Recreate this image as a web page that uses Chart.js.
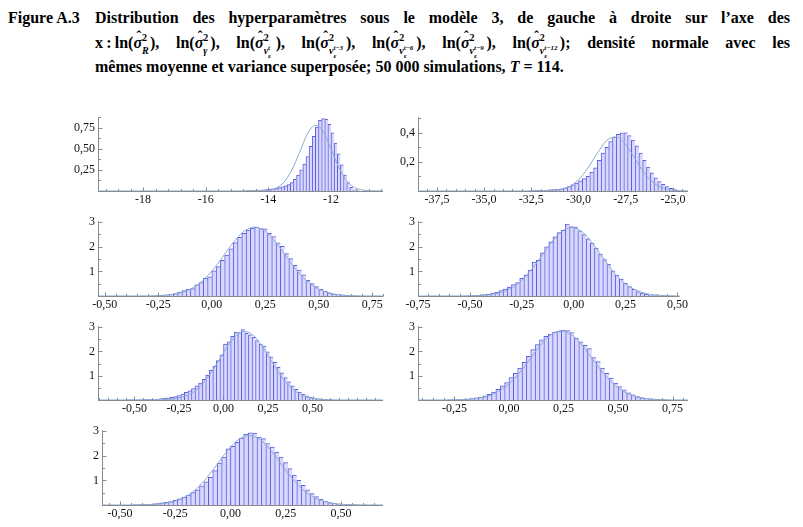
<!DOCTYPE html>
<html lang="fr">
<head>
<meta charset="utf-8">
<title>Figure A.3</title>
<script src="https://cdn.jsdelivr.net/npm/chart.js@4.4.1/dist/chart.umd.min.js"></script>
<style>
  html, body { margin: 0; padding: 0; background: #fff; }
  body { width: 803px; height: 527px; position: relative; overflow: hidden;
         font-family: "Liberation Serif", "Times New Roman", serif; color: #000; }
  .tl { position: absolute; font-weight: bold; font-size: 16px; line-height: 16px; white-space: nowrap; }
  .just { text-align: justify; text-align-last: justify; }
  .sg { position: relative; display: inline-block; }
  .sg .hat { position: absolute; left: 3px; top: -6px; font-size: 14px; font-style: normal; }
  .ss { display: inline-block; position: relative; height: 1px; vertical-align: baseline; }
  .ss .sp { position: absolute; left: 0; top: -14px; font-size: 10px; line-height: 10px; font-style: normal; }
  .ss .sb { position: absolute; left: 0; top: -1px; font-size: 10px; line-height: 10px; font-style: italic; }
  .ss2 { display: inline-block; position: relative; height: 1px; width: 14px; }
  .ss2 .sp2 { position: absolute; left: 0; top: -8px; font-size: 7px; line-height: 7px; font-style: italic; }
  .ss2 .sb2 { position: absolute; left: 0; top: 0px; font-size: 7px; line-height: 7px; font-style: italic; }
  canvas { position: absolute; }
</style>
</head>
<body>

<div class="tl" style="left:8px; top:10px;">Figure A.3</div>
<div class="tl just" style="left:95px; top:10px; width:695px;">Distribution des hyperparamètres sous le modèle 3, de gauche à droite sur l’axe des</div>
<div class="tl just" style="left:95px; top:35px; width:695px;" id="line2"></div>
<div class="tl" style="left:95px; top:59px;">mêmes moyenne et variance superposée; 50 000 simulations, <i>T</i> = 114.</div>

<script>
// ---- data ----
// histogram densities (first bin centre + bin width), normal density curve points, axis ticks

// ln(sigma_R^2)
const histAStart = -14.65, histAWidth = 0.1;
const histA = [0.005, 0.006, 0.008, 0.01, 0.012, 0.015, 0.018, 0.022, 0.027, 0.033, 0.04, 0.05,
  0.06, 0.075, 0.1, 0.14, 0.19, 0.25, 0.32, 0.41, 0.53, 0.65, 0.76, 0.84, 0.86, 0.85, 0.79,
  0.69, 0.57, 0.44, 0.31, 0.19, 0.1, 0.045, 0.015, 0.005];
const curveAx = [-19.44, -14.5, -14.0, -13.75, -13.5, -13.25, -13.0, -12.75, -12.5, -12.25, -12.0, -11.75, -11.5, -11.25, -11.0, -10.75, -10.34];
const curveAy = [0, 0.0003, 0.009, 0.035, 0.106, 0.25, 0.46, 0.68, 0.78, 0.71, 0.50, 0.28, 0.124, 0.043, 0.012, 0.002, 0];
const xTicksA = [-18, -16, -14, -12];
const xLabelsA = ['-18', '-16', '-14', '-12'];
const yTicksA = [0.25, 0.5, 0.75];
const yLabelsA = ['0,25', '0,50', '0,75'];

// ln(sigma_gamma^2)
const histBStart = -32.5, histBWidth = 0.2;
const histB = [0.002, 0.003, 0.004, 0.005, 0.006, 0.008, 0.01, 0.012, 0.015, 0.022, 0.03, 0.042,
  0.055, 0.07, 0.085, 0.10, 0.13, 0.16, 0.21, 0.26, 0.30, 0.34, 0.37, 0.39, 0.40, 0.40, 0.38,
  0.35, 0.31, 0.26, 0.21, 0.165, 0.125, 0.09, 0.065, 0.045, 0.03, 0.018, 0.01, 0.005];
const curveBx = [-38.5, -32.5, -32.0, -31.5, -31.0, -30.5, -30.0, -29.5, -29.0, -28.5, -28.0, -27.5, -27.0, -26.5, -26.0, -25.5, -25.0, -24.5, -24.0];
const curveBy = [0, 0.0001, 0.0005, 0.0024, 0.0095, 0.030, 0.077, 0.158, 0.26, 0.348, 0.371, 0.319, 0.22, 0.122, 0.054, 0.019, 0.0056, 0.0013, 0];
const xTicksB = [-37.5, -35, -32.5, -30, -27.5, -25];
const xLabelsB = ['-37,5', '-35,0', '-32,5', '-30,0', '-27,5', '-25,0'];
const yTicksB = [0.2, 0.4];
const yLabelsB = ['0,2', '0,4'];

// ln(sigma_v^2), t
const histCStart = -0.25, histCWidth = 0.02;
const histC = [0.02, 0.03, 0.05, 0.06, 0.10, 0.16, 0.22, 0.28, 0.30, 0.45, 0.55, 0.72, 0.78,
  1.02, 1.20, 1.45, 1.66, 1.92, 2.17, 2.38, 2.55, 2.68, 2.76, 2.80, 2.74, 2.73, 2.55, 2.42,
  2.16, 2.02, 1.72, 1.52, 1.25, 1.05, 0.86, 0.64, 0.50, 0.38, 0.27, 0.19, 0.13, 0.08, 0.05, 0.03, 0.02];
const curveCx = [-0.53, -0.35, -0.30, -0.25, -0.20, -0.15, -0.10, -0.05, 0.00, 0.05, 0.10, 0.15, 0.20, 0.25, 0.30, 0.35, 0.40, 0.45, 0.50, 0.55, 0.60, 0.65, 0.70, 0.75, 0.80];
const curveCy = [0, 0.001, 0.005, 0.016, 0.047, 0.12, 0.28, 0.57, 1.01, 1.58, 2.17, 2.63, 2.80, 2.63, 2.17, 1.58, 1.01, 0.57, 0.28, 0.12, 0.047, 0.016, 0.005, 0.001, 0];
const xTicksC = [-0.5, -0.25, 0, 0.25, 0.5, 0.75];
const xLabelsC = ['-0,50', '-0,25', '0,00', '0,25', '0,50', '0,75'];

// t-3
const histDStart = -0.51, histDWidth = 0.02;
const histD = [0.01, 0.02, 0.03, 0.04, 0.06, 0.08, 0.12, 0.16, 0.22, 0.28, 0.36, 0.46, 0.55,
  0.72, 0.86, 1.05, 1.38, 1.45, 1.75, 2.0, 2.2, 2.4, 2.58, 2.68, 2.92, 2.82, 2.80, 2.65, 2.50,
  2.32, 2.15, 1.95, 1.70, 1.48, 1.30, 1.02, 0.85, 0.68, 0.52, 0.38, 0.27, 0.18, 0.12, 0.07, 0.04, 0.02, 0.01];
const curveDx = [-0.75, -0.56, -0.51, -0.46, -0.41, -0.36, -0.31, -0.26, -0.21, -0.16, -0.11, -0.06, -0.01, 0.04, 0.09, 0.14, 0.19, 0.24, 0.29, 0.34, 0.39, 0.44, 0.49, 0.54];
const curveDy = [0, 0.001, 0.005, 0.016, 0.047, 0.12, 0.28, 0.56, 1.0, 1.57, 2.15, 2.61, 2.78, 2.61, 2.15, 1.57, 1.0, 0.56, 0.28, 0.12, 0.047, 0.016, 0.005, 0.001];
const xTicksD = [-0.75, -0.5, -0.25, 0, 0.25, 0.5];
const xLabelsD = ['-0,75', '-0,50', '-0,25', '0,00', '0,25', '0,50'];

// t-6
const histEStart = -0.53, histEWidth = 0.02;
const histE = [0.005, 0.008, 0.01, 0.012, 0.015, 0.02, 0.025, 0.03, 0.04, 0.05, 0.07, 0.09, 0.11,
  0.14, 0.18, 0.24, 0.32, 0.38, 0.47, 0.58, 0.70, 0.85, 1.02, 1.22, 1.40, 1.62, 1.85, 2.30, 2.40,
  2.62, 2.80, 2.78, 2.90, 2.75, 2.68, 2.58, 2.45, 2.30, 2.22, 1.98, 1.78, 1.55, 1.35, 1.12, 0.92,
  0.75, 0.58, 0.44, 0.33, 0.24, 0.17, 0.12, 0.08, 0.05, 0.03, 0.02, 0.01, 0.005];
const curveEx = [-0.71, -0.43, -0.38, -0.33, -0.28, -0.23, -0.18, -0.13, -0.08, -0.03, 0.02, 0.07, 0.12, 0.17, 0.22, 0.27, 0.32, 0.37, 0.42, 0.47, 0.52, 0.57, 0.62, 0.67, 0.90];
const curveEy = [0, 0.001, 0.005, 0.016, 0.048, 0.12, 0.28, 0.57, 1.02, 1.59, 2.19, 2.65, 2.82, 2.65, 2.19, 1.59, 1.02, 0.57, 0.28, 0.12, 0.048, 0.016, 0.005, 0.001, 0];
const xTicksE = [-0.5, -0.25, 0, 0.25, 0.5];
const xLabelsE = ['-0,50', '-0,25', '0,00', '0,25', '0,50'];

// t-9
const histFStart = -0.27, histFWidth = 0.02;
const histF = [0.01, 0.015, 0.02, 0.03, 0.04, 0.06, 0.09, 0.12, 0.17, 0.23, 0.33, 0.44, 0.58,
  0.72, 0.92, 1.10, 1.32, 1.55, 1.80, 2.08, 2.28, 2.48, 2.62, 2.72, 2.80, 2.84, 2.88, 2.86, 2.78,
  2.55, 2.40, 2.25, 2.12, 1.75, 1.58, 1.32, 1.10, 0.90, 0.70, 0.55, 0.42, 0.30, 0.21, 0.14, 0.09,
  0.06, 0.04, 0.02, 0.015, 0.01];
const curveFx = [-0.42, -0.31, -0.26, -0.21, -0.16, -0.11, -0.06, -0.01, 0.04, 0.09, 0.14, 0.19, 0.24, 0.29, 0.34, 0.39, 0.44, 0.49, 0.54, 0.59, 0.64, 0.69, 0.74, 0.79, 0.83];
const curveFy = [0, 0.001, 0.005, 0.016, 0.048, 0.125, 0.29, 0.58, 1.03, 1.60, 2.21, 2.67, 2.85, 2.67, 2.21, 1.60, 1.03, 0.58, 0.29, 0.125, 0.048, 0.016, 0.005, 0.001, 0];
const xTicksF = [-0.25, 0, 0.25, 0.5, 0.75];
const xLabelsF = ['-0,25', '0,00', '0,25', '0,50', '0,75'];

// t-12
const histGStart = -0.43, histGWidth = 0.02;
const histG = [0.01, 0.015, 0.02, 0.03, 0.04, 0.06, 0.09, 0.11, 0.14, 0.19, 0.25, 0.31, 0.40,
  0.50, 0.62, 0.78, 0.94, 1.12, 1.40, 1.70, 1.95, 2.28, 2.38, 2.55, 2.72, 2.88, 2.93, 2.92, 2.76,
  2.70, 2.50, 2.35, 2.15, 1.95, 1.72, 1.48, 1.22, 1.00, 0.80, 0.62, 0.46, 0.34, 0.24, 0.16, 0.10,
  0.06, 0.04, 0.025, 0.015, 0.01, 0.005];
const curveGx = [-0.59, -0.465, -0.415, -0.365, -0.315, -0.265, -0.215, -0.165, -0.115, -0.065, -0.015, 0.035, 0.085, 0.135, 0.185, 0.235, 0.285, 0.335, 0.385, 0.435, 0.485, 0.535, 0.585, 0.635, 0.69];
const curveGy = [0, 0.001, 0.005, 0.016, 0.048, 0.12, 0.28, 0.57, 1.02, 1.59, 2.19, 2.65, 2.82, 2.65, 2.19, 1.59, 1.02, 0.57, 0.28, 0.12, 0.048, 0.016, 0.005, 0.001, 0];
const xTicksG = [-0.5, -0.25, 0, 0.25, 0.5];
const xLabelsG = ['-0,50', '-0,25', '0,00', '0,25', '0,50'];

const yTicksDens = [1, 2, 3];
const yLabelsDens = ['1', '2', '3'];

// ---- styling ----
const FONT = '"Liberation Serif", "Times New Roman", serif';
const BAR_FILL = 'rgb(216, 216, 252)';
const BAR_EDGE = 'rgb(92, 92, 226)';
const CURVE = 'rgb(138, 172, 204)';
const AXIS = '#8a8a8a';

// script helpers for the caption
function sig(sub, w) {
  return '<span class="sg"><i>σ</i><span class="hat">ˆ</span></span>' +
    '<span class="ss" style="width:' + w + 'px"><span class="sp">2</span><span class="sb">' + sub + '</span></span>';
}
function vsub(sup) {
  return '<i>v</i><span class="ss2"><span class="sp2">' + sup + '</span><span class="sb2">ε</span></span>';
}

document.addEventListener('DOMContentLoaded', () => {
  const line2 = document.getElementById('line2');
  line2.innerHTML =
    'x\u2009:\u2009ln(' + sig('R', 8) + '), ' +
    'ln(' + sig('γ', 7) + '), ' +
    'ln(' + sig(vsub('t'), 12) + '), ' +
    'ln(' + sig(vsub('t−3'), 17) + '), ' +
    'ln(' + sig(vsub('t−6'), 17) + '), ' +
    'ln(' + sig(vsub('t−9'), 17) + '), ' +
    'ln(' + sig(vsub('t−12'), 20) + '); densité normale avec les';

  const panels = [
    { hist: histA, start: histAStart, width: histAWidth, cx: curveAx, cy: curveAy,
      xt: xTicksA, xl: xLabelsA, yt: yTicksA, yl: yLabelsA, xMinor: 0.4, yMinor: 0.125,
      left: 98, right: 383, top: 115, bottom: 191, xMin: -19.44, xMax: -10.34, yMax: 0.876, clip: 400 },
    { hist: histB, start: histBStart, width: histBWidth, cx: curveBx, cy: curveBy,
      xt: xTicksB, xl: xLabelsB, yt: yTicksB, yl: yLabelsB, xMinor: 0.5, yMinor: 0.1,
      left: 418, right: 688, top: 115, bottom: 191, xMin: -38.5, xMax: -24.2, yMax: 0.507, clip: 690 },
    { hist: histC, start: histCStart, width: histCWidth, cx: curveCx, cy: curveCy,
      xt: xTicksC, xl: xLabelsC, yt: yTicksDens, yl: yLabelsDens, xMinor: 0.05, yMinor: 0.5,
      left: 98, right: 383, top: 219, bottom: 296, xMin: -0.532, xMax: 0.80, yMax: 3.04, clip: 400 },
    { hist: histD, start: histDStart, width: histDWidth, cx: curveDx, cy: curveDy,
      xt: xTicksD, xl: xLabelsD, yt: yTicksDens, yl: yLabelsDens, xMinor: 0.05, yMinor: 0.5,
      left: 418, right: 689, top: 219, bottom: 296, xMin: -0.75, xMax: 0.51, yMax: 3.04, clip: 690 },
    { hist: histE, start: histEStart, width: histEWidth, cx: curveEx, cy: curveEy,
      xt: xTicksE, xl: xLabelsE, yt: yTicksDens, yl: yLabelsDens, xMinor: 0.05, yMinor: 0.5,
      left: 98, right: 383, top: 324, bottom: 400, xMin: -0.705, xMax: 0.896, yMax: 3.04, clip: 400 },
    { hist: histF, start: histFStart, width: histFWidth, cx: curveFx, cy: curveFy,
      xt: xTicksF, xl: xLabelsF, yt: yTicksDens, yl: yLabelsDens, xMinor: 0.05, yMinor: 0.5,
      left: 418, right: 688, top: 324, bottom: 400, xMin: -0.417, xMax: 0.821, yMax: 3.04, clip: 690 },
    { hist: histG, start: histGStart, width: histGWidth, cx: curveGx, cy: curveGy,
      xt: xTicksG, xl: xLabelsG, yt: yTicksDens, yl: yLabelsDens, xMinor: 0.05, yMinor: 0.5,
      left: 102, right: 383, top: 428, bottom: 505, xMin: -0.581, xMax: 0.69, yMax: 3.04, clip: 400 }
  ];

  panels.forEach(p => makePanel(p));
});

// Mathematica-like axes: plain lines with major/minor ticks pointing inside
function axesPlugin(p) {
  const near = (v, list, eps) => list.some(t => Math.abs(t - v) < eps);
  return {
    id: 'mathAxes',
    beforeDatasetsDraw(chart) {
      const { ctx, chartArea: a, scales: { x, y } } = chart;
      const by = a.bottom + 0.5;
      const lx = a.left + 0.5;
      ctx.save();
      ctx.strokeStyle = AXIS;
      ctx.lineWidth = 1;
      ctx.beginPath();
      ctx.moveTo(a.left, by); ctx.lineTo(a.right, by);
      ctx.moveTo(lx, a.top); ctx.lineTo(lx, a.bottom + 1);

      // x ticks
      p.xt.forEach(v => {
        const px = Math.round(x.getPixelForValue(v)) + 0.5;
        ctx.moveTo(px, by); ctx.lineTo(px, by - 4);
      });
      for (let k = Math.ceil(p.xMin / p.xMinor); k * p.xMinor <= p.xMax; k++) {
        const v = k * p.xMinor;
        if (near(v, p.xt, p.xMinor / 10)) continue;
        const px = Math.round(x.getPixelForValue(v)) + 0.5;
        ctx.moveTo(px, by); ctx.lineTo(px, by - 2.5);
      }
      // y ticks
      p.yt.forEach(v => {
        const py = Math.round(y.getPixelForValue(v)) + 0.5;
        ctx.moveTo(lx, py); ctx.lineTo(lx + 4, py);
      });
      for (let k = 1; k * p.yMinor <= p.yMax; k++) {
        const v = k * p.yMinor;
        if (near(v, p.yt, p.yMinor / 10)) continue;
        const py = Math.round(y.getPixelForValue(v)) + 0.5;
        ctx.moveTo(lx, py); ctx.lineTo(lx + 2.5, py);
      }
      ctx.stroke();
      ctx.restore();
    }
  };
}

function makePanel(p) {
  const padL = 40, padT = 8, padB = 22;
  const padR = p.clip - p.right;
  const W = p.right - p.left + padL + padR;
  const H = p.bottom - p.top + padT + padB;

  const canvas = document.createElement('canvas');
  canvas.width = W; canvas.height = H;
  canvas.style.left = (p.left - padL) + 'px';
  canvas.style.top = (p.top - padT) + 'px';
  canvas.style.width = W + 'px';
  canvas.style.height = H + 'px';
  document.body.appendChild(canvas);

  const bars = p.hist.map((v, i) => ({ x: p.start + i * p.width, y: v }));
  const curve = p.cx.map((v, i) => ({ x: v, y: p.cy[i] }));
  const tickFont = { family: FONT, size: 12 };

  new Chart(canvas, {
    type: 'bar',
    data: {
      datasets: [
        {
          type: 'line',
          data: curve,
          borderColor: CURVE,
          borderWidth: 1,
          pointRadius: 0,
          cubicInterpolationMode: 'monotone',
          order: 0
        },
        {
          type: 'bar',
          data: bars,
          backgroundColor: BAR_FILL,
          borderColor: BAR_EDGE,
          borderWidth: { top: 1, left: 1, right: 0, bottom: 0 },
          barPercentage: 1,
          categoryPercentage: 1,
          order: 1
        }
      ]
    },
    options: {
      responsive: false,
      animation: false,
      devicePixelRatio: 1,
      layout: { padding: { left: 0, right: padR, top: padT, bottom: 0 }, autoPadding: false },
      plugins: { legend: { display: false }, tooltip: { enabled: false } },
      scales: {
        x: {
          type: 'linear',
          min: p.xMin, max: p.xMax,
          offset: false,
          grid: { display: false, drawTicks: false },
          border: { display: false },
          afterBuildTicks: s => { s.ticks = p.xt.map(v => ({ value: v })); },
          afterFit: s => { s.height = padB; },
          ticks: {
            padding: 2, autoSkip: false, maxRotation: 0, color: '#111', font: tickFont,
            callback: (v, i) => p.xl[i]
          }
        },
        y: {
          type: 'linear',
          min: 0, max: p.yMax,
          grid: { display: false, drawTicks: false },
          border: { display: false },
          afterBuildTicks: s => { s.ticks = p.yt.map(v => ({ value: v })); },
          afterFit: s => { s.width = padL; },
          ticks: {
            padding: 3, autoSkip: false, color: '#111', font: tickFont,
            callback: (v, i) => p.yl[i]
          }
        }
      }
    },
    plugins: [axesPlugin(p)]
  });
}
</script>
</body>
</html>
